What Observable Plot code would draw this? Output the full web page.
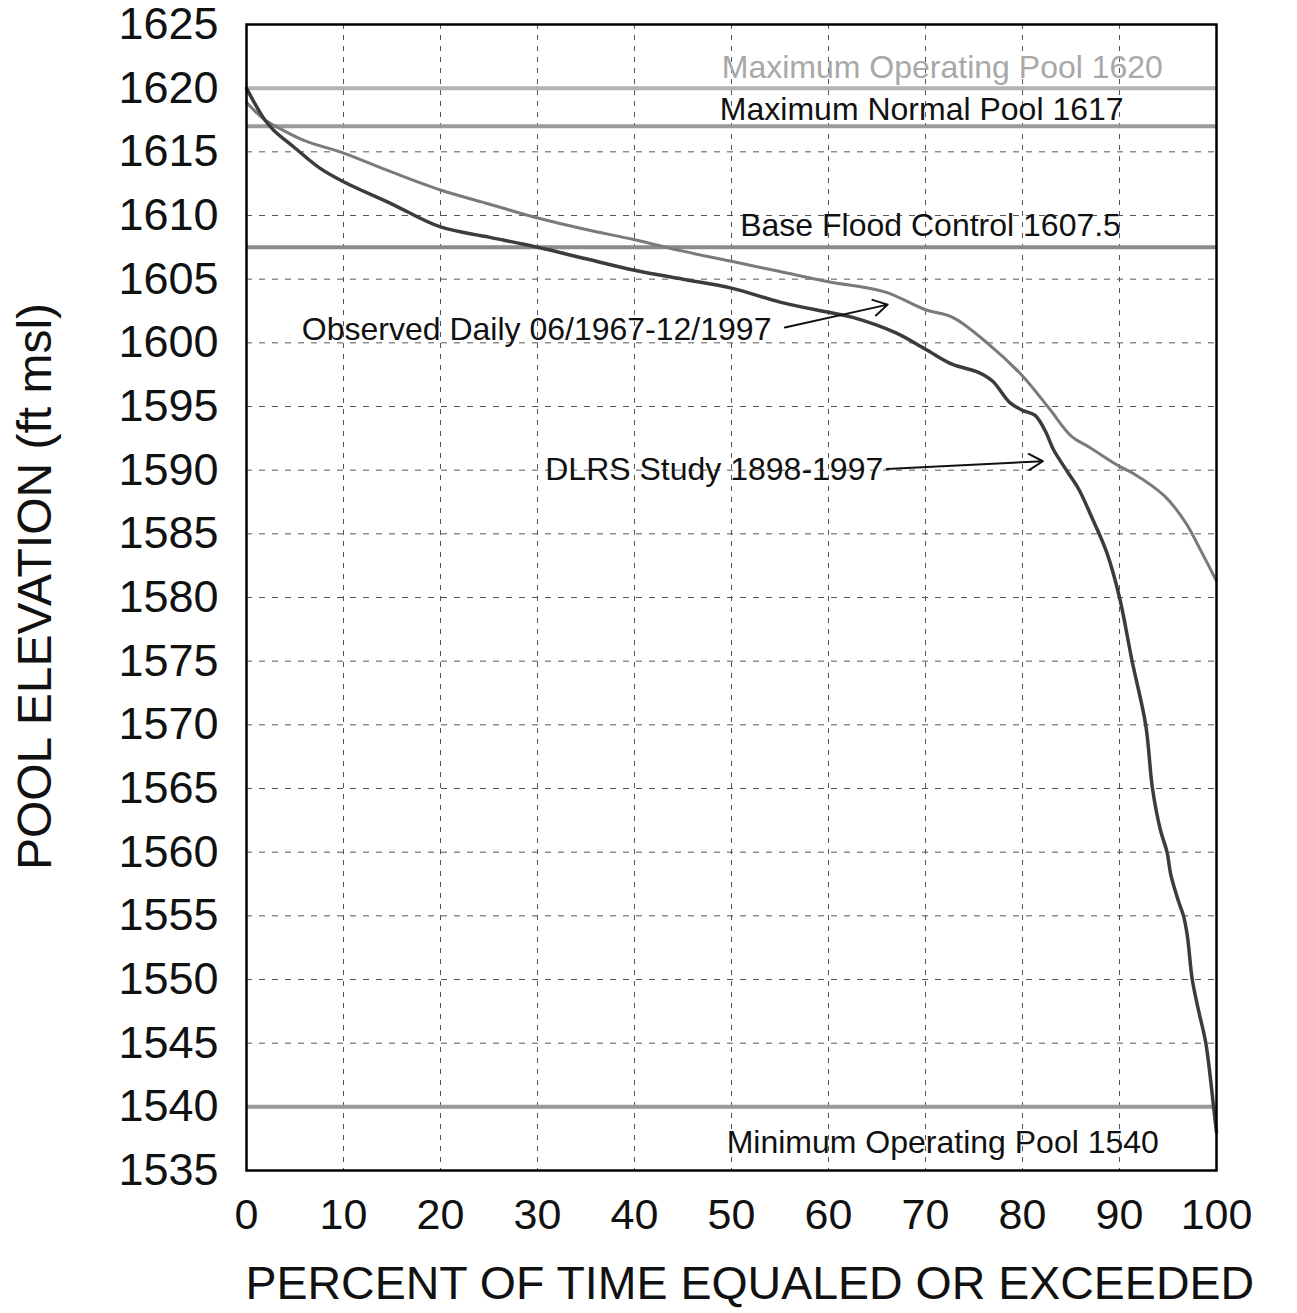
<!DOCTYPE html>
<html>
<head>
<meta charset="utf-8">
<script src="https://cdn.jsdelivr.net/npm/d3@7"></script>
<script src="https://cdn.jsdelivr.net/npm/@observablehq/plot@0.6"></script>
<style>
  html, body { margin: 0; padding: 0; background: #fff; }
  #chart svg { font-family: "Liberation Sans", Arial, sans-serif; }
</style>
</head>
<body>
<div id="chart"></div>
<script>
// ---- data ----
const xTicks = [0, 10, 20, 30, 40, 50, 60, 70, 80, 90, 100];
const yTicks = [1535, 1540, 1545, 1550, 1555, 1560, 1565, 1570, 1575, 1580, 1585, 1590, 1595, 1600, 1605, 1610, 1615, 1620, 1625];

const dlrsPct  = [0, 1, 1.9, 2.8, 5, 7.6, 10, 15, 20, 25, 30, 35, 40, 45, 50, 55, 60, 62.5, 66.9, 70, 72.8, 75.4, 76.9, 78.7, 80, 81.3, 82.4, 83.2, 84.7, 85.8, 87.2, 88.7, 90, 91.3, 92.7, 93.4, 94.2, 94.9, 95.3, 96.1, 96.6, 97.0, 97.5, 98.2, 98.9, 99.7, 100];
const dlrsElev = [1620, 1618.6, 1617.5, 1616.7, 1615.3, 1613.7, 1612.65, 1610.9, 1609.1, 1608.3, 1607.5, 1606.6, 1605.7, 1605.0, 1604.3, 1603.2, 1602.4, 1602.0, 1600.8, 1599.5, 1598.3, 1597.7, 1597.0, 1595.3, 1594.7, 1594.3, 1593.0, 1591.6, 1589.8, 1588.5, 1586.2, 1583.5, 1580, 1575, 1570, 1565, 1561.8, 1560, 1558.2, 1556.1, 1555, 1553.4, 1550, 1547.4, 1545, 1540, 1538];

const obsPct  = [0, 1, 1.9, 3.5, 5.9, 10, 15, 20, 25, 30, 35, 40, 45, 50, 55, 60, 65.8, 70, 72.8, 76.5, 80, 82.8, 85, 86.9, 90, 91.3, 94.6, 96.8, 98.3, 100];
const obsElev = [1618.9, 1618.1, 1617.5, 1616.8, 1615.9, 1614.9, 1613.4, 1612.0, 1610.9, 1609.8, 1608.9, 1608.1, 1607.2, 1606.4, 1605.6, 1604.8, 1604.0, 1602.6, 1602.0, 1599.9, 1597.4, 1594.8, 1592.7, 1591.8, 1590.3, 1589.8, 1588.0, 1585.9, 1583.8, 1581.3];

const refLevels = [1620, 1617, 1607.5, 1540];
const refNames  = ["Maximum Operating Pool 1620", "Maximum Normal Pool 1617", "Base Flood Control 1607.5", "Minimum Operating Pool 1540"];
const refLabelX = [49.0, 48.8, 50.9, 49.5];
const refLabelY = [1621.6, 1618.3, 1609.2, 1537.2];

const seriesNames  = ["Observed Daily 06/1967-12/1997", "DLRS Study 1898-1997"];
const seriesLabelX = [5.7, 30.8];
const seriesLabelY = [1601.0, 1590.0];
const arrowFromX = [55.5, 66.0];
const arrowFromY = [1601.2, 1590.1];
const arrowToX   = [66.1, 82.1];
const arrowToY   = [1603.0, 1590.7];

const xTitle = "PERCENT OF TIME EQUALED OR EXCEEDED";
const yTitle = "POOL ELEVATION (ft msl)";

// ---- build tables ----
const dlrs = dlrsPct.map((p, i) => ({x: p, y: dlrsElev[i]}));
const obs  = obsPct.map((p, i) => ({x: p, y: obsElev[i]}));
const refs = refLevels.map((v, i) => ({y: v, name: refNames[i], lx: refLabelX[i], ly: refLabelY[i]}));
const refColors = ["#b4b4b4", "#9a9a9a", "#8a8a8a", "#999999"];
const refTextColors = ["#a8a8a8", "#111", "#111", "#111"];
const series = seriesNames.map((n, i) => ({name: n, lx: seriesLabelX[i], ly: seriesLabelY[i],
  x1: arrowFromX[i], y1: arrowFromY[i], x2: arrowToX[i], y2: arrowToY[i]}));

const chart = Plot.plot({
  width: 1297,
  height: 1313,
  marginLeft: 246,
  marginRight: 81,
  marginTop: 24,
  marginBottom: 143,
  style: {background: "#fff", fontFamily: "'Liberation Sans', Arial, sans-serif", color: "#111", overflow: "visible"},
  x: {domain: [0, 100]},
  y: {domain: [1535, 1625]},
  marks: [
    Plot.gridX(xTicks, {stroke: "#555", strokeOpacity: 1, strokeWidth: 1, strokeDasharray: "5,6"}),
    Plot.gridY(yTicks, {stroke: "#555", strokeOpacity: 1, strokeWidth: 1, strokeDasharray: "6,7"}),
    Plot.ruleY(refs, {y: "y", stroke: (d, i) => refColors[i], strokeWidth: 4}),
    Plot.line(obs, {x: "x", y: "y", stroke: "#7a7a7a", strokeWidth: 3, curve: "catmull-rom"}),
    Plot.line(dlrs, {x: "x", y: "y", stroke: "#3c3c3c", strokeWidth: 3.5, curve: "catmull-rom"}),
    Plot.arrow(series, {x1: "x1", y1: "y1", x2: "x2", y2: "y2", stroke: "#111", strokeWidth: 2, headLength: 12}),
    Plot.text(refs, {x: "lx", y: "ly", text: "name", textAnchor: "start", fontSize: 32, fill: (d, i) => refTextColors[i]}),
    Plot.text(series, {x: "lx", y: "ly", text: "name", textAnchor: "start", fontSize: 32, fill: "#111"}),
    Plot.axisX(xTicks, {tickSize: 0, tickPadding: 28, fontSize: 43, label: null, fill: "#111", tickFormat: d => String(d)}),
    Plot.axisY(yTicks, {tickSize: 0, tickPadding: 28, fontSize: 45, label: null, fill: "#111", tickFormat: d => String(d)}),
    Plot.text([xTitle], {frameAnchor: "bottom-left", textAnchor: "start", dx: -1, dy: 128, fontSize: 46.5, fill: "#111"}),
    Plot.text([yTitle], {frameAnchor: "left", textAnchor: "middle", rotate: -90, dx: -211, dy: -11, fontSize: 48, fill: "#111"}),
    Plot.frame({stroke: "#000", strokeWidth: 2.5})
  ]
});
document.getElementById("chart").appendChild(chart);
</script>
</body>
</html>
